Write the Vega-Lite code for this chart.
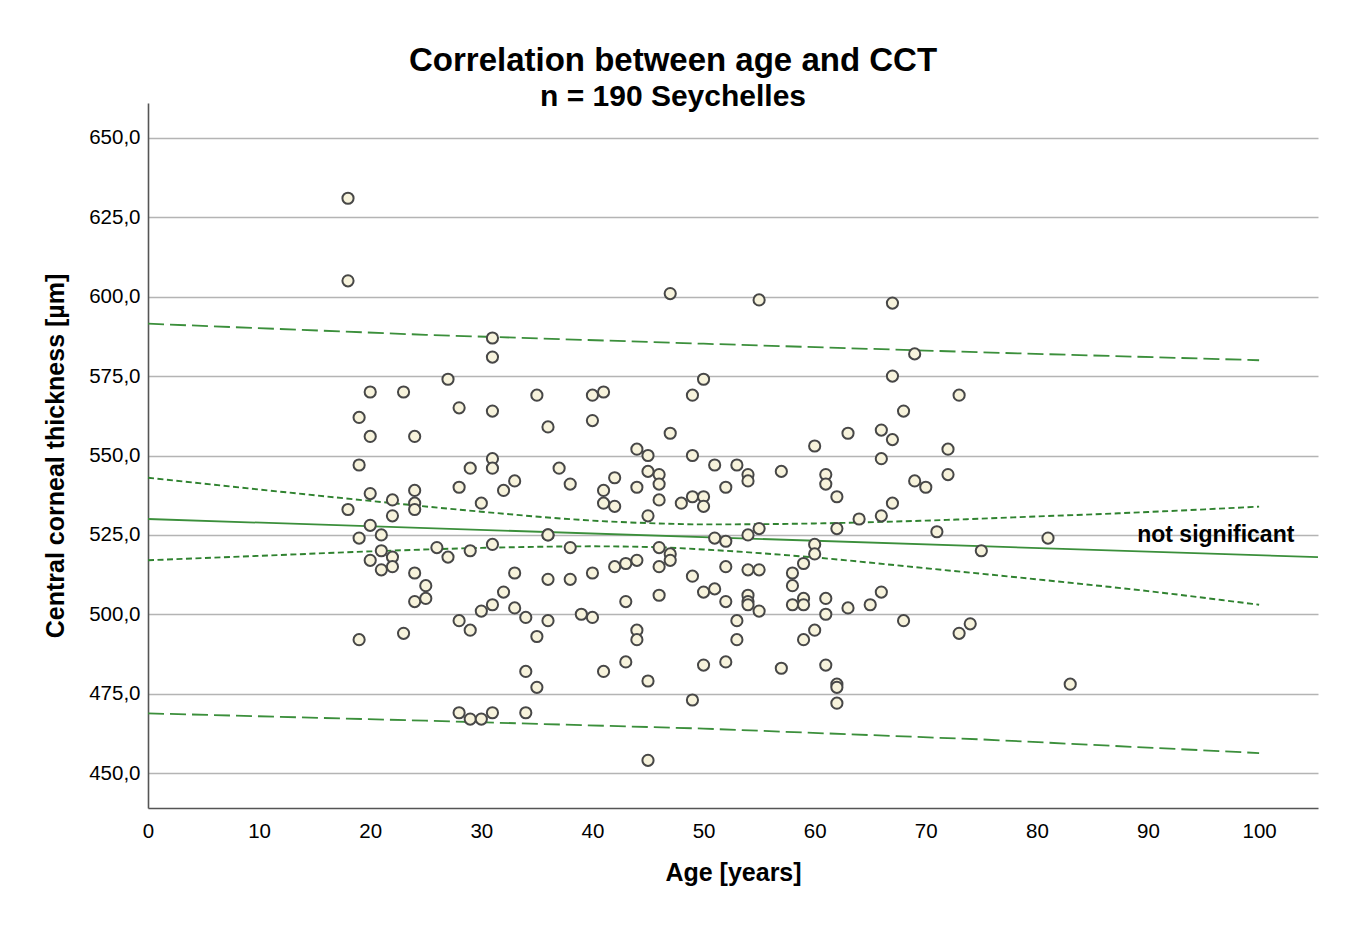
{
  "$schema": "https://vega.github.io/schema/vega-lite/v6.json",
  "autosize": "none",
  "width": 1170,
  "height": 705,
  "padding": {"left": 148, "top": 103, "right": 42, "bottom": 122},
  "background": "white",
  "title": {
    "text": "Correlation between age and CCT",
    "subtitle": "n = 190 Seychelles",
    "anchor": "middle",
    "frame": "group",
    "dx": -60,
    "offset": -9,
    "font": "Liberation Sans",
    "fontSize": 33,
    "fontWeight": "bold",
    "color": "#000000",
    "subtitleFont": "Liberation Sans",
    "subtitleFontSize": 30,
    "subtitleFontWeight": "bold",
    "subtitleColor": "#000000",
    "subtitlePadding": 4
  },
  "datasets": {
    "points": [
      {"age":18,"cct":631},{"age":18,"cct":605},{"age":18,"cct":533},
      {"age":19,"cct":562},{"age":19,"cct":547},{"age":19,"cct":524},{"age":19,"cct":492},
      {"age":20,"cct":570},{"age":20,"cct":556},{"age":20,"cct":538},{"age":20,"cct":528},{"age":20,"cct":517},
      {"age":21,"cct":525},{"age":21,"cct":520},{"age":21,"cct":514},
      {"age":22,"cct":536},{"age":22,"cct":531},{"age":22,"cct":518},{"age":22,"cct":515},
      {"age":23,"cct":570},{"age":23,"cct":494},
      {"age":24,"cct":556},{"age":24,"cct":539},{"age":24,"cct":535},{"age":24,"cct":533},{"age":24,"cct":513},{"age":24,"cct":504},
      {"age":25,"cct":509},{"age":25,"cct":505},
      {"age":26,"cct":521},
      {"age":27,"cct":574},{"age":27,"cct":518},
      {"age":28,"cct":565},{"age":28,"cct":540},{"age":28,"cct":498},{"age":28,"cct":469},
      {"age":29,"cct":546},{"age":29,"cct":520},{"age":29,"cct":495},{"age":29,"cct":467},
      {"age":30,"cct":535},{"age":30,"cct":501},{"age":30,"cct":467},
      {"age":31,"cct":587},{"age":31,"cct":581},{"age":31,"cct":564},{"age":31,"cct":549},{"age":31,"cct":546},{"age":31,"cct":522},{"age":31,"cct":503},{"age":31,"cct":469},
      {"age":32,"cct":539},{"age":32,"cct":507},
      {"age":33,"cct":542},{"age":33,"cct":513},{"age":33,"cct":502},
      {"age":34,"cct":499},{"age":34,"cct":482},{"age":34,"cct":469},
      {"age":35,"cct":569},{"age":35,"cct":493},{"age":35,"cct":477},
      {"age":36,"cct":559},{"age":36,"cct":525},{"age":36,"cct":525},{"age":36,"cct":511},{"age":36,"cct":498},
      {"age":37,"cct":546},
      {"age":38,"cct":541},{"age":38,"cct":521},{"age":38,"cct":511},
      {"age":39,"cct":500},
      {"age":40,"cct":569},{"age":40,"cct":561},{"age":40,"cct":513},{"age":40,"cct":499},
      {"age":41,"cct":570},{"age":41,"cct":539},{"age":41,"cct":535},{"age":41,"cct":482},
      {"age":42,"cct":543},{"age":42,"cct":534},{"age":42,"cct":515},
      {"age":43,"cct":516},{"age":43,"cct":504},{"age":43,"cct":485},
      {"age":44,"cct":552},{"age":44,"cct":540},{"age":44,"cct":517},{"age":44,"cct":495},{"age":44,"cct":492},
      {"age":45,"cct":550},{"age":45,"cct":545},{"age":45,"cct":531},{"age":45,"cct":479},{"age":45,"cct":454},
      {"age":46,"cct":544},{"age":46,"cct":541},{"age":46,"cct":536},{"age":46,"cct":521},{"age":46,"cct":515},{"age":46,"cct":506},
      {"age":47,"cct":601},{"age":47,"cct":557},{"age":47,"cct":519},{"age":47,"cct":517},
      {"age":48,"cct":535},
      {"age":49,"cct":569},{"age":49,"cct":550},{"age":49,"cct":537},{"age":49,"cct":512},{"age":49,"cct":473},
      {"age":50,"cct":574},{"age":50,"cct":537},{"age":50,"cct":534},{"age":50,"cct":507},{"age":50,"cct":484},
      {"age":51,"cct":547},{"age":51,"cct":524},{"age":51,"cct":508},
      {"age":52,"cct":540},{"age":52,"cct":523},{"age":52,"cct":515},{"age":52,"cct":504},{"age":52,"cct":485},
      {"age":53,"cct":547},{"age":53,"cct":498},{"age":53,"cct":492},
      {"age":54,"cct":544},{"age":54,"cct":542},{"age":54,"cct":525},{"age":54,"cct":514},{"age":54,"cct":506},{"age":54,"cct":504},{"age":54,"cct":503},
      {"age":55,"cct":599},{"age":55,"cct":527},{"age":55,"cct":514},{"age":55,"cct":501},
      {"age":57,"cct":545},{"age":57,"cct":483},
      {"age":58,"cct":513},{"age":58,"cct":509},{"age":58,"cct":503},
      {"age":59,"cct":516},{"age":59,"cct":505},{"age":59,"cct":503},{"age":59,"cct":492},
      {"age":60,"cct":553},{"age":60,"cct":522},{"age":60,"cct":519},{"age":60,"cct":495},
      {"age":61,"cct":544},{"age":61,"cct":541},{"age":61,"cct":505},{"age":61,"cct":500},{"age":61,"cct":484},
      {"age":62,"cct":537},{"age":62,"cct":527},{"age":62,"cct":478},{"age":62,"cct":477},{"age":62,"cct":472},
      {"age":63,"cct":557},{"age":63,"cct":502},
      {"age":64,"cct":530},
      {"age":65,"cct":503},
      {"age":66,"cct":558},{"age":66,"cct":549},{"age":66,"cct":531},{"age":66,"cct":507},
      {"age":67,"cct":598},{"age":67,"cct":575},{"age":67,"cct":555},{"age":67,"cct":535},
      {"age":68,"cct":564},{"age":68,"cct":498},
      {"age":69,"cct":582},{"age":69,"cct":542},
      {"age":70,"cct":540},
      {"age":71,"cct":526},
      {"age":72,"cct":552},{"age":72,"cct":544},
      {"age":73,"cct":569},{"age":73,"cct":494},
      {"age":74,"cct":497},
      {"age":75,"cct":520},
      {"age":81,"cct":524},
      {"age":83,"cct":478}
    ],
    "lines": [
      {"band":"fit","side":"mid","age":0,"cct":530.0},
      {"band":"fit","side":"mid","age":105.3,"cct":518.0},
      {"band":"ci","side":"upper","age":0,"cct":543.0},
      {"band":"ci","side":"upper","age":10,"cct":539.3},
      {"band":"ci","side":"upper","age":20,"cct":535.7},
      {"band":"ci","side":"upper","age":30,"cct":532.3},
      {"band":"ci","side":"upper","age":40,"cct":529.5},
      {"band":"ci","side":"upper","age":46,"cct":528.6},
      {"band":"ci","side":"upper","age":50,"cct":528.3},
      {"band":"ci","side":"upper","age":60,"cct":528.6},
      {"band":"ci","side":"upper","age":70,"cct":529.5},
      {"band":"ci","side":"upper","age":80,"cct":530.8},
      {"band":"ci","side":"upper","age":90,"cct":532.2},
      {"band":"ci","side":"upper","age":100,"cct":533.9},
      {"band":"ci","side":"lower","age":0,"cct":517.0},
      {"band":"ci","side":"lower","age":10,"cct":518.4},
      {"band":"ci","side":"lower","age":20,"cct":519.8},
      {"band":"ci","side":"lower","age":30,"cct":520.9},
      {"band":"ci","side":"lower","age":40,"cct":521.4},
      {"band":"ci","side":"lower","age":46,"cct":521.1},
      {"band":"ci","side":"lower","age":50,"cct":520.4},
      {"band":"ci","side":"lower","age":60,"cct":517.9},
      {"band":"ci","side":"lower","age":70,"cct":514.5},
      {"band":"ci","side":"lower","age":80,"cct":511.0},
      {"band":"ci","side":"lower","age":90,"cct":507.3},
      {"band":"ci","side":"lower","age":100,"cct":503.0},
      {"band":"pi","side":"upper","age":0,"cct":591.5},
      {"band":"pi","side":"upper","age":25,"cct":588.0},
      {"band":"pi","side":"upper","age":50,"cct":585.2},
      {"band":"pi","side":"upper","age":75,"cct":582.5},
      {"band":"pi","side":"upper","age":100,"cct":580.0},
      {"band":"pi","side":"lower","age":0,"cct":468.8},
      {"band":"pi","side":"lower","age":25,"cct":466.5},
      {"band":"pi","side":"lower","age":50,"cct":464.0},
      {"band":"pi","side":"lower","age":75,"cct":460.6},
      {"band":"pi","side":"lower","age":100,"cct":456.3}
    ],
    "labels": [
      {"age":96.1,"cct":525,"text":"not significant"}
    ]
  },
  "encoding": {
    "x": {
      "field": "age", "type": "quantitative",
      "scale": {"domain": [0, 105.3], "nice": false, "zero": false},
      "axis": {
        "title": "Age [years]",
        "values": [0,10,20,30,40,50,60,70,80,90,100],
        "grid": false, "ticks": false,
        "domainColor": "#555555", "domainWidth": 1.6,
        "labelFont": "Liberation Sans", "labelFontSize": 20.5, "labelColor": "#000000",
        "labelPadding": 13, "labelFlush": false,
        "titleFont": "Liberation Sans", "titleFontSize": 25, "titleFontWeight": "bold", "titleColor": "#000000",
        "titlePadding": 19
      }
    },
    "y": {
      "field": "cct", "type": "quantitative",
      "scale": {"domain": [439, 661], "nice": false, "zero": false},
      "axis": {
        "title": "Central corneal thickness [µm]",
        "values": [450,475,500,525,550,575,600,625,650],
        "labelExpr": "replace(format(datum.value, '.1f'), '.', ',')",
        "grid": true, "gridColor": "#b4b4b4", "gridWidth": 1.7,
        "ticks": false,
        "domainColor": "#555555", "domainWidth": 1.6,
        "labelFont": "Liberation Sans", "labelFontSize": 20.5, "labelColor": "#000000",
        "labelPadding": 8,
        "titleFont": "Liberation Sans", "titleFontSize": 25, "titleFontWeight": "bold", "titleColor": "#000000",
        "titlePadding": 20
      }
    }
  },
  "layer": [
    {
      "data": {"name": "lines"},
      "transform": [{"filter": "datum.band === 'pi'"}],
      "mark": {"type": "line", "color": "#3b8f3b", "strokeWidth": 1.8, "strokeDash": [16, 6]},
      "encoding": {"detail": {"field": "side"}}
    },
    {
      "data": {"name": "lines"},
      "transform": [{"filter": "datum.band === 'ci'"}],
      "mark": {"type": "line", "color": "#2f822f", "strokeWidth": 1.9, "strokeDash": [6, 3.5], "interpolate": "monotone"},
      "encoding": {"detail": {"field": "side"}}
    },
    {
      "data": {"name": "lines"},
      "transform": [{"filter": "datum.band === 'fit'"}],
      "mark": {"type": "line", "color": "#3b8f3b", "strokeWidth": 1.8},
      "encoding": {}
    },
    {
      "data": {"name": "points"},
      "mark": {"type": "point", "shape": "circle", "filled": true, "size": 125, "fill": "#f7f3dc", "stroke": "#474747", "strokeWidth": 2, "opacity": 1}
    },
    {
      "data": {"name": "labels"},
      "mark": {"type": "text", "font": "Liberation Sans", "fontSize": 23, "fontWeight": "bold", "color": "#000000", "align": "center", "baseline": "middle"},
      "encoding": {"text": {"field": "text"}}
    }
  ],
  "config": {
    "view": {"stroke": null}
  }
}
